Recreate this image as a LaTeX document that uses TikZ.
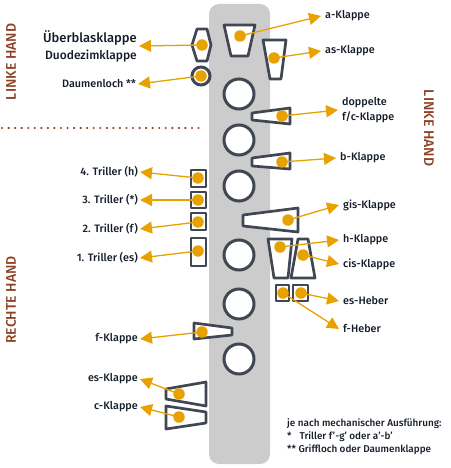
\documentclass[tikz,border=0pt]{standalone}
\usepackage{fontspec}
\setmainfont{Fira Sans Medium}
\usetikzlibrary{arrows.meta}
\definecolor{korpus}{HTML}{CCCCCC}
\definecolor{rahmen}{HTML}{414752}
\definecolor{pfeil}{HTML}{E8A200}
\definecolor{hand}{HTML}{8C4226}
\definecolor{schrift}{HTML}{141C28}
\begin{document}
\begin{tikzpicture}[
  x=1pt, y=-1pt,
  klappe/.style={draw=rahmen, fill=white, line width=2.7pt, line join=round},
  griff/.style={circle, draw=rahmen, fill=white, line width=3pt, minimum size=30pt, inner sep=0pt},
  punkt/.style={circle, fill=pfeil, minimum size=11.5pt, inner sep=0pt},
  txtr/.style={anchor=west, font=\fontsize{10.8}{15}\selectfont, text=schrift, inner sep=4pt, align=left},
  txtl/.style={anchor=east, font=\fontsize{10.8}{15}\selectfont, text=schrift, inner sep=2pt},
  hand/.style={font=\fontsize{14}{16}\selectfont, text=hand, inner sep=0pt},
  zeiger/.style={draw=pfeil, line width=1.3pt, -{Triangle[length=12pt,width=12pt]}}
]
\useasboundingbox (0,0) rectangle (450,468);
\fill[korpus, rounded corners=10pt] (209,4) rectangle (270,464);
% griffloecher
\node[griff] (g1) at (239,94)  {};
\node[griff] (g2) at (239,140) {};
\node[griff] (g3) at (239,186) {};
\node[griff] (g4) at (239,255) {};
\node[griff] (g5) at (239,304) {};
\node[griff] (g6) at (239,359) {};
% linke hand
\draw[klappe] (224,25) -- (255,25) -- (248,56) -- (231,56) -- cycle;
\draw[klappe] (263,40) -- (286,40) -- (281,79) -- (270,79) -- cycle;
\draw[klappe] (252,113) -- (290,108) -- (290,124) -- (252,120) -- cycle;
\draw[klappe] (252,158) -- (290,153) -- (290,169) -- (252,166) -- cycle;
\draw[klappe] (192,45) -- (197,29) -- (207,29) -- (211,45) -- (207,61) -- (197,61) -- cycle;
\node[griff, minimum size=18pt] (daumen) at (201,76) {};
% rechte hand
\draw[klappe] (243,215) -- (298,208) -- (298,232) -- (243,226) -- cycle;
\draw[klappe] (268,239) -- (292,239) -- (288,278) -- (274,278) -- cycle;
\draw[klappe] (298,239) -- (308,239) -- (315,278) -- (291,278) -- cycle;
\draw[klappe] (293,285) rectangle (308,301);
\draw[klappe] (276,285) rectangle (289,301);
\draw[klappe] (191,170) rectangle (206,187);
\draw[klappe] (191,192) rectangle (206,208);
\draw[klappe] (191,213) rectangle (206,230);
\draw[klappe] (191,238) rectangle (206,266);
\draw[klappe] (194,323) -- (232,328) -- (232,335) -- (194,339) -- cycle;
\draw[klappe] (166,389) -- (206,382) -- (206,406) -- (166,399) -- cycle;
\draw[klappe] (166,406) -- (206,412) -- (206,423) -- (166,429) -- cycle;
% punkte
\node[punkt] (da) at (240,36)  {};
\node[punkt] (das) at (274,58) {};
\node[punkt] (dfc) at (282,116) {};
\node[punkt] (db) at (282,162) {};
\node[punkt] (dgis) at (288,220) {};
\node[punkt] (dh) at (280,247) {};
\node[punkt] (dcis) at (303,255) {};
\node[punkt] (des) at (301,293) {};
\node[punkt] (dfh) at (283,293) {};
\node[punkt] (due) at (202,45) {};
\node[punkt] (dd) at (201,76) {};
\node[punkt] (dt4) at (198,178) {};
\node[punkt] (dt3) at (198,200) {};
\node[punkt] (dt2) at (198,222) {};
\node[punkt] (dt1) at (198,251) {};
\node[punkt] (df) at (202,332) {};
\node[punkt] (dek) at (179,394) {};
\node[punkt] (dc) at (179,417) {};
% beschriftung
\node[txtr] (la) at (321,16) {a-Klappe};
\node[txtr] (las) at (321,51) {as-Klappe};
\node[txtr] (lfc) at (338,110) {doppelte\\f/c-Klappe};
\node[txtr] (lb) at (336,158) {b-Klappe};
\node[txtr] (lgis) at (339,205) {gis-Klappe};
\node[txtr] (lh) at (339,240) {h-Klappe};
\node[txtr] (lcis) at (339,264) {cis-Klappe};
\node[txtr] (les) at (339,301) {es-Heber};
\node[txtr] (lfh) at (339,329) {f-Heber};
\node[txtl, align=right, font=\fontsize{13}{17}\selectfont] (lue) at (139,46) {Überblasklappe\\{\fontsize{12}{17}\selectfont Duodezimklappe}};
\node[txtl] (ld) at (138,84) {Daumenloch **};
\node[txtl] (lt4) at (140,172) {4. Triller (h)};
\node[txtl] (lt3) at (140,200) {3. Triller (*)};
\node[txtl] (lt2) at (140,229) {2. Triller (f)};
\node[txtl] (lt1) at (140,258) {1. Triller (es)};
\node[txtl] (lf) at (140,339) {f-Klappe};
\node[txtl] (lek) at (140,379) {es-Klappe};
\node[txtl] (lc) at (140,407) {c-Klappe};
\node[anchor=north west, font=\fontsize{9.9}{13.4}\selectfont, text=schrift, inner sep=0pt, align=left] (note) at (287,418) {je nach mechanischer Ausführung:\\*\hspace{5.5pt} Triller f'-g' oder a'-b'\\** Griffloch oder Daumenklappe};
\node[hand, rotate=90] (hl) at (11,62) {LINKE HAND};
\node[hand, rotate=90] (hr) at (11,300) {RECHTE HAND};
\node[hand, rotate=-90] (hl2) at (429,128) {LINKE HAND};
\coordinate (t1) at (2,128);
\coordinate (t2) at (200,128);
\draw[draw=hand, line width=2.4pt, line cap=round, dash pattern=on 0pt off 6.55pt] (t1) -- (t2);
% pfeile
\draw[zeiger] (da.center) -- (la.west);
\draw[zeiger] (das.center) -- (las.west);
\draw[zeiger] (dfc.center) -- (lfc.west);
\draw[zeiger] (db.center) -- (lb.west);
\draw[zeiger] (dgis.center) -- (lgis.west);
\draw[zeiger] (dh.center) -- (lh.west);
\draw[zeiger] (dcis.center) -- (lcis.west);
\draw[zeiger] (des.center) -- (les.west);
\draw[zeiger] (dfh.center) -- (lfh.west);
\draw[zeiger] (due.center) -- (lue.east);
\draw[zeiger] (dd.center) -- (ld.east);
\draw[zeiger] (dt4.center) -- (lt4.east);
\draw[zeiger] (dt3.center) -- (lt3.east);
\draw[zeiger] (dt2.center) -- (lt2.east);
\draw[zeiger] (dt1.center) -- (lt1.east);
\draw[zeiger] (df.center) -- (lf.east);
\draw[zeiger] (dek.center) -- (lek.east);
\draw[zeiger] (dc.center) -- (lc.east);
\end{tikzpicture}
\end{document}
